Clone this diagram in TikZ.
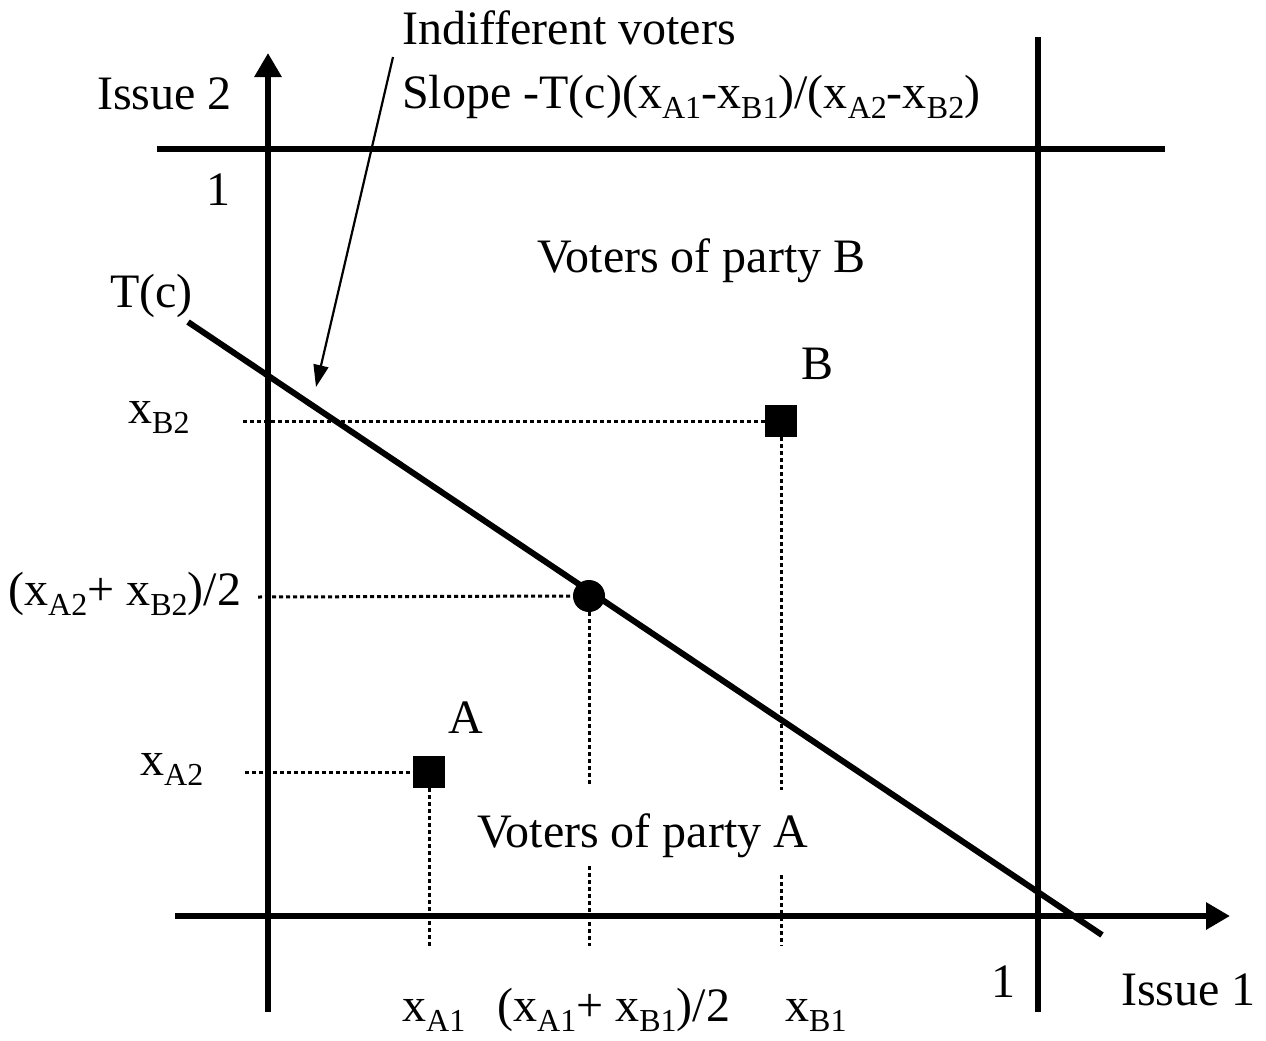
\documentclass[tikz,border=0pt]{standalone}
\usepackage{fontspec}
\setmainfont{Liberation Serif}
\usetikzlibrary{arrows.meta}
\newcommand\sbs[1]{\raisebox{-10pt}{\fontsize{32}{32}\selectfont #1}}
\begin{document}
\begin{tikzpicture}[x=1pt,y=-1pt,
  axis/.style={line width=6pt},
  axisarrow/.style={line width=6pt,-{Triangle[length=24pt,width=26pt]}},
  dots/.style={line width=3pt,dash pattern=on 4pt off 3pt},
  lbl/.style={inner sep=0pt,font=\fontsize{48}{54}\selectfont},
  sq/.style={fill=black,minimum size=32pt,inner sep=0pt},
  pt/.style={circle,fill=black,minimum size=32pt,inner sep=0pt}]
\useasboundingbox (0,0) rectangle (1266,1041);
% frame lines
\coordinate (yb) at (268,1012); \coordinate (yt) at (268,53);
\coordinate (xl) at (175,916);  \coordinate (xr) at (1230,916);
\coordinate (tl) at (157,149);  \coordinate (tr) at (1165,149);
\coordinate (rb) at (1038,1012); \coordinate (rt) at (1038,37);
\draw[axisarrow] (yb) -- (yt);
\draw[axisarrow] (xl) -- (xr);
\draw[axis] (tl) -- (tr);
\draw[axis] (rb) -- (rt);
% T(c) line
\coordinate (ts) at (188,322); \coordinate (te) at (1102,935);
\draw[axis] (ts) -- (te);
% points
\node[sq] (B) at (781,421) {};
\node[sq] (A) at (429,772) {};
\node[pt] (M) at (589,596) {};
% dotted guides
\coordinate (b2l) at (243,421); \coordinate (m2l) at (258,597); \coordinate (a2l) at (245,772);
\draw[dots] (b2l) -- (B.west);
\draw[dots] (m2l) -- (M.west);
\draw[dots] (a2l) -- (A.west);
\coordinate (b1a) at (781,790); \coordinate (b1b) at (781,875); \coordinate (b1c) at (781,946);
\coordinate (m1a) at (589,787); \coordinate (m1b) at (589,866); \coordinate (m1c) at (589,946);
\coordinate (a1c) at (429,946);
\draw[dots] (B.south) -- (b1a);
\draw[dots] (b1b) -- (b1c);
\draw[dots] (M.south) -- (m1a);
\draw[dots] (m1b) -- (m1c);
\draw[dots] (A.south) -- (a1c);
% labels
\node[lbl,anchor=base west] (ind) at (402,45) {Indifferent voters};
\node[lbl,anchor=base west] (slope) at (402,108) {Slope -T(c)(x\sbs{A1}-x\sbs{B1})/(x\sbs{A2}-x\sbs{B2})};
\coordinate (arrtip) at (316,387);
\coordinate (arrtail) at (393,57);
\draw[line width=2.2pt,-{Triangle[length=22pt,width=15pt]}] (arrtail) -- (arrtip);
\node[lbl,anchor=base west] (iss2) at (97,109) {Issue 2};
\node[lbl,anchor=base] (one2) at (218,205) {1};
\node[lbl,anchor=base west] (vb) at (537,272) {Voters of party B};
\node[lbl,anchor=base west] (tc) at (110,307) {T(c)};
\node[lbl,anchor=base] (lB) at (817,379) {B};
\node[lbl,anchor=base west] (xb2) at (128,423) {x\sbs{B2}};
\node[lbl,anchor=base west] (mid2) at (8,605) {(x\sbs{A2}+ x\sbs{B2})/2};
\node[lbl,anchor=base] (lA) at (466,733) {A};
\node[lbl,anchor=base west] (xa2) at (140,775) {x\sbs{A2}};
\node[lbl,anchor=base west] (va) at (477,847) {Voters of party A};
\node[lbl,anchor=base] (one1) at (1003,997) {1};
\node[lbl,anchor=base west] (iss1) at (1121,1005) {Issue 1};
\node[lbl,anchor=base west] (xa1) at (402,1021) {x\sbs{A1}};
\node[lbl,anchor=base west] (mid1) at (497,1021) {(x\sbs{A1}+ x\sbs{B1})/2};
\node[lbl,anchor=base west] (xb1) at (785,1021) {x\sbs{B1}};
\end{tikzpicture}
\end{document}
